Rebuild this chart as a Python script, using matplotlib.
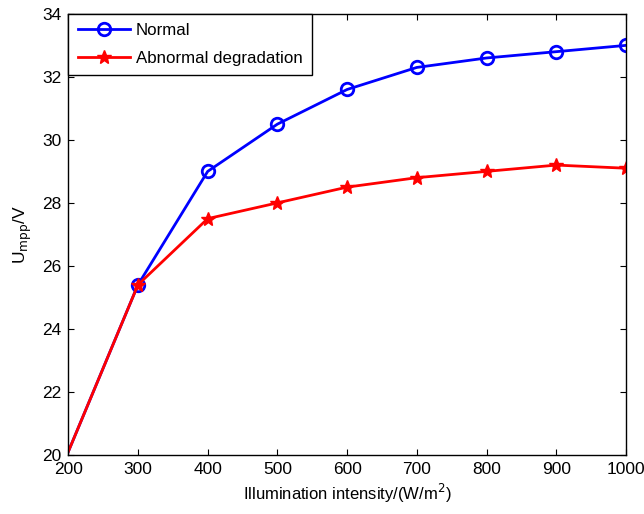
import matplotlib.pyplot as plt

plt.rcParams["font.family"] = ["Liberation Sans", "DejaVu Sans"]

intensity = [200, 300, 400, 500, 600, 700, 800, 900, 1000]
normal = [20.1, 25.4, 29.0, 30.5, 31.6, 32.3, 32.6, 32.8, 33.0]
abnormal = [20.1, 25.4, 27.5, 28.0, 28.5, 28.8, 29.0, 29.2, 29.1]

fig = plt.figure(figsize=(6.44, 5.14), dpi=100)
ax = fig.add_axes([0.106, 0.115, 0.866, 0.858])

ax.plot(intensity, normal, color="blue", lw=2, marker="o", ms=9,
        mfc="none", mew=2, markevery=slice(1, None), label="Normal")
ax.plot(intensity, abnormal, color="red", lw=2, marker="*", ms=10,
        mew=1, markevery=slice(1, None), label="Abnormal degradation")

ax.set_xlim(200, 1000)
ax.set_ylim(20, 34)
ax.set_xticks(range(200, 1001, 100))
ax.set_yticks(range(20, 35, 2))
ax.tick_params(direction="in", top=True, right=True, labelsize=12.5,
               length=4, pad=5)
for s in ax.spines.values():
    s.set_linewidth(1)

ax.set_xlabel("Illumination intensity/(W/m$^2$)", fontsize=12, labelpad=4)
ax.set_ylabel("U$_{\\mathrm{mpp}}$/V", fontsize=12.5, labelpad=6)

leg = ax.legend(loc="upper left", fontsize=12.2, fancybox=False, framealpha=1,
                edgecolor="black", borderaxespad=0, handlelength=3.1,
                handletextpad=0.35, labelspacing=0.75, borderpad=0.55)
leg.get_frame().set_linewidth(1)

fig.savefig("out.png")
